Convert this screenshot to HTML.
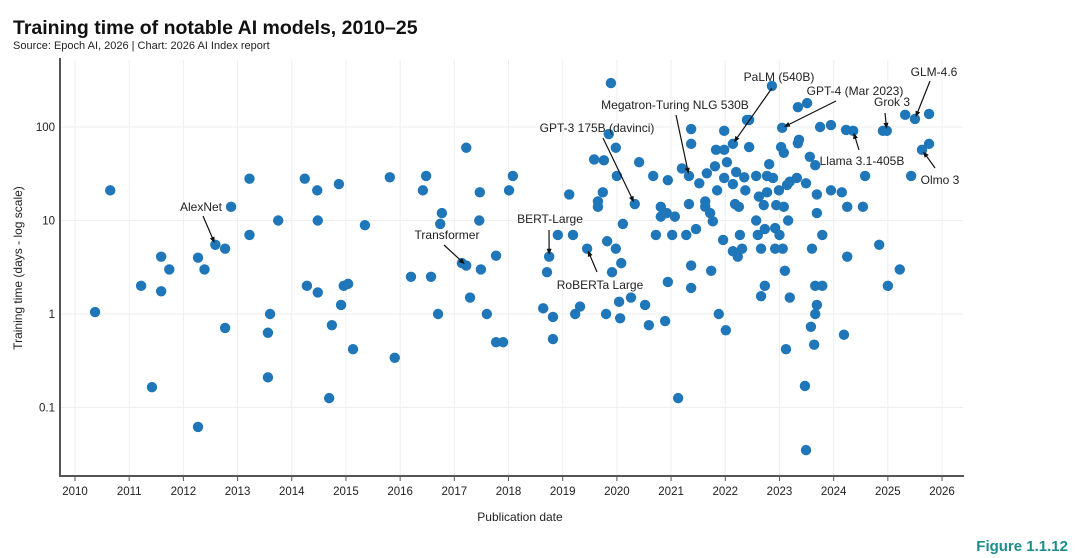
<!DOCTYPE html>
<html><head><meta charset="utf-8">
<style>
body{margin:0;background:#fff;width:1080px;height:558px;overflow:hidden;font-family:"Liberation Sans",sans-serif;}
svg{display:block}
</style></head>
<body>
<svg id="chart" width="1080" height="558">
<text x="13" y="34" font-size="19.5" font-weight="bold" fill="#111">Training time of notable AI models, 2010–25</text>
<text x="13" y="49" font-size="11" fill="#222">Source: Epoch AI, 2026 | Chart: 2026 AI Index report</text>
<text x="1068" y="551" font-size="15" font-weight="bold" fill="#1e8c8c" text-anchor="end">Figure 1.1.12</text>
<text x="520" y="521" font-size="12" fill="#222" text-anchor="middle">Publication date</text>
<text transform="translate(22,268) rotate(-90)" font-size="12" fill="#222" text-anchor="middle">Training time (days - log scale)</text>
<g id="grid"></g><g id="dots"></g><g id="ann"></g>
<line x1="60" y1="58" x2="60" y2="477" stroke="#555" stroke-width="2"/>
<line x1="59" y1="476" x2="964" y2="476" stroke="#555" stroke-width="2"/>
</svg>
<script>
const xTicks=[2010,2011,2012,2013,2014,2015,2016,2017,2018,2019,2020,2021,2022,2023,2024,2025,2026];
const yTicks=[0.1,1,10,100];
const yTickLabels=["0.1","1","10","100"];
const years=[2010.37,2010.65,2011.22,2011.42,2011.59,2011.59,2011.74,2012.27,2012.27,2012.39,2012.59,2012.77,2012.77,2012.88,2013.22,2013.22,2013.56,2013.56,2013.60,2013.75,2014.24,2014.28,2014.47,2014.48,2014.48,2014.69,2014.74,2014.87,2014.91,2014.96,2015.04,2015.13,2015.35,2015.81,2015.90,2016.20,2016.42,2016.48,2016.57,2016.70,2016.74,2016.77,2017.14,2017.22,2017.22,2017.29,2017.46,2017.47,2017.49,2017.60,2017.77,2017.90,2017.77,2018.01,2018.08,
2018.64,2018.82,2018.82,2018.71,2018.75,2018.91,2019.19,2019.12,2019.23,2019.32,2019.45,2019.58,2019.76,2019.65,2019.65,2019.74,2019.82,2019.80,2019.89,2019.85,2019.98,2019.98,2020.08,2019.91,2020.04,2020.06,2020.00,2020.11,2020.26,2020.33,2020.41,2020.52,2020.59,2020.67,2020.72,2020.81,2020.81,2020.89,2020.94,2020.92,2020.94,2021.02,2021.07,2021.13,2021.20,2021.28,2021.33,2021.33,2021.37,2021.37,2021.37,2021.37,2021.46,2021.52,2021.63,2021.63,2021.66,2021.72,2021.77,2021.74,2021.81,2021.83,2021.85,2021.88,2021.96,2021.98,2021.98,2021.98,2022.01,2022.03,
2022.14,2022.14,2022.14,2022.18,2022.20,2022.25,2022.23,2022.27,2022.31,2022.35,2022.37,2022.40,2022.44,2022.44,2022.57,2022.57,2022.62,2022.60,2022.66,2022.66,2022.71,2022.73,2022.73,2022.77,2022.77,2022.81,2022.88,2022.86,2022.92,2022.92,2022.94,2022.99,2023.00,2023.06,2023.08,2023.10,2023.05,2023.03,2023.08,2023.12,2023.14,2023.16,2023.19,2023.19,2023.32,2023.34,2023.51,2023.34,2023.36,2023.49,2023.47,2023.49,2023.56,2023.60,2023.58,2023.64,2023.66,2023.66,2023.69,2023.66,2023.79,2023.69,2023.69,2023.79,2023.75,2023.95,2023.95,2024.15,2024.19,2024.25,2024.25,2024.23,2024.36,2024.54,2024.58,2024.84,2025.00,2024.91,2024.98,2025.22,2025.32,2025.43,2025.50,2025.76,2025.76,2025.63];
const days=[1.05,21,2.0,0.165,4.1,1.75,3.0,4.0,0.062,3.0,5.5,5.0,0.71,14,28,7,0.63,0.21,1.0,10,28,2.0,21,10,1.7,0.126,0.76,24.5,1.25,2.0,2.1,0.42,8.9,29,0.34,2.5,21,30,2.5,1.0,9.2,12,3.5,3.3,60,1.5,10,20,3.0,1.0,0.5,0.5,4.2,21,30,
1.15,0.93,0.54,2.8,4.1,7,7,19,1.0,1.2,5.0,45,44,16,14,20,6.0,1.0,295,84,60,5,3.5,2.8,1.35,0.9,30,9.2,1.5,15,42,1.25,0.76,30,7,14,11,0.84,27,12,2.2,7,11,0.126,36,7,15,30,95,66,3.3,1.9,8.1,25,16,14,32,12,9.8,2.9,38,57,21,1.0,6.2,91,57,28.5,0.67,42,
66,24.5,4.7,15,33,14,4.1,7,5,29,21,119,61,119,10,30,18,7,5,1.55,14.6,8.1,2.0,20,30,40,28.5,275,8.3,5,14.6,21,7,5,14,2.9,98,61,53,0.42,24,10,1.5,26,28.5,163,180,67,73,25,0.17,0.035,48,5,0.73,0.47,39,1.0,1.25,2.0,2.0,19,12,7,100,105,21,20,0.6,4.1,14,93,91,14,30,5.5,2.0,91,91,3.0,135,30,122,138,66,57];
const annNames=["AlexNet","Transformer","BERT-Large","RoBERTa Large","GPT-3 175B (davinci)","Megatron-Turing NLG 530B","PaLM (540B)","GPT-4 (Mar 2023)","Grok 3","GLM-4.6","Llama 3.1-405B","Olmo 3"];
const annYears=[2012.59,2017.22,2018.75,2019.45,2020.33,2021.33,2022.14,2023.05,2024.98,2025.50,2024.36,2025.63];
const annDays=[5.5,3.3,4.1,5.0,15,30,66,98,91,122,91,57];
// label layout (pixels): text x, text y, anchor, arrow start x, arrow start y
const annLayout=[[201,211,"middle",203,216],[447,239,"middle",444,245],[550,223,"middle",549,230],[600,289,"middle",597,272],[597,132,"middle",603,138],[675,109,"middle",676,115],[779,81,"middle",772,88],[855,95,"middle",836,101],[892,106,"middle",885,113],[934,76,"middle",930,81],[862,165,"middle",859,150],[940,184,"middle",935,168]];
const NS="http://www.w3.org/2000/svg";
const X=y=>75+(y-2010)*54.19;
const Y=v=>314-Math.log10(v)*93.5;
function mk(t,a,p){const e=document.createElementNS(NS,t);for(const k in a)e.setAttribute(k,a[k]);p.appendChild(e);return e;}
const grid=document.getElementById('grid');
xTicks.forEach(t=>{
  const l=mk('line',{x1:X(t),x2:X(t),y1:60,y2:476,stroke:'#eeeeee','stroke-width':1},grid);
  
  
  const tk=mk('line',{x1:X(t),x2:X(t),y1:476,y2:481,stroke:'#555','stroke-width':1},grid);
  
  
  const tx=mk('text',{x:X(t),y:495,'font-size':11.5,fill:'#222','text-anchor':'middle'},grid);
  tx.textContent=t;
  
  
});
yTicks.forEach((t,i)=>{
  const l=mk('line',{x1:60,x2:963,y1:Y(t),y2:Y(t),stroke:'#eeeeee','stroke-width':1},grid);
  
  
  const tx=mk('text',{x:55,y:Y(t)+4,'font-size':11.5,fill:'#222','text-anchor':'end'},grid);
  tx.textContent=yTickLabels[i];
  
  
});
const dots=document.getElementById('dots');
years.forEach((yr,i)=>{
  const c=mk('circle',{cx:X(yr),cy:Y(days[i]),r:5.2,fill:'#1f76b8'},dots);
  
  
});
const ann=document.getElementById('ann');
annNames.forEach((n,i)=>{
  const L=annLayout[i];
  const tx=mk('text',{x:L[0],y:L[1],'font-size':12,fill:'#222','text-anchor':L[2]},ann);
  tx.textContent=n;
  
  
  const ex=X(annYears[i]),ey=Y(annDays[i]);
  const dx=ex-L[3],dy=ey-L[4],len=Math.hypot(dx,dy),ux=dx/len,uy=dy/len;
  const tipx=ex-ux*2,tipy=ey-uy*2;
  const ln=mk('line',{x1:L[3],y1:L[4],x2:tipx-ux*4,y2:tipy-uy*4,stroke:'#111','stroke-width':1.2},ann);
  
  
  const px=-uy,py=ux;
  const hd=mk('polygon',{points:`${tipx},${tipy} ${tipx-ux*6+px*2.5},${tipy-uy*6+py*2.5} ${tipx-ux*6-px*2.5},${tipy-uy*6-py*2.5}`,fill:'#111'},ann);
  
  
});
</script>
</body></html>
